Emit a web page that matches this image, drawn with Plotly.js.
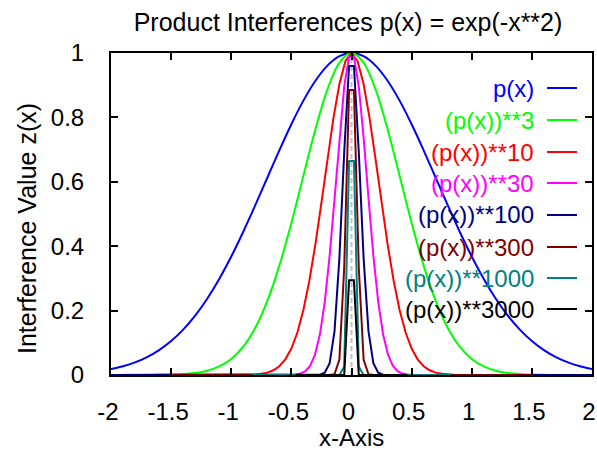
<!DOCTYPE html>
<html>
<head>
<meta charset="utf-8">
<script src="https://cdn.plot.ly/plotly-3.0.1.min.js"></script>
<style>html,body{margin:0;padding:0;background:#fff;}#chart{width:597px;height:454px;}</style>
</head>
<body>
<div id="chart"></div>
<script>
// ---- data ----
const seriesNames = ["p(x)", "(p(x))**3", "(p(x))**10", "(p(x))**30", "(p(x))**100", "(p(x))**300", "(p(x))**1000", "(p(x))**3000"];

const xP = [-2,-1.9,-1.8,-1.7,-1.6,-1.5,-1.4,-1.3,-1.2,-1.1,-1,-0.9,-0.8,-0.7,-0.6,-0.5,-0.4,-0.3,-0.2,-0.1,0,0.1,0.2,0.3,0.4,0.5,0.6,0.7,0.8,0.9,1,1.1,1.2,1.3,1.4,1.5,1.6,1.7,1.8,1.9,2];
const yP1 = [0.0183,0.0271,0.0392,0.0556,0.0773,0.1054,0.1409,0.1845,0.2369,0.2982,0.3679,0.4449,0.5273,0.6126,0.6977,0.7788,0.8521,0.9139,0.9608,0.9900,1,0.9900,0.9608,0.9139,0.8521,0.7788,0.6977,0.6126,0.5273,0.4449,0.3679,0.2982,0.2369,0.1845,0.1409,0.1054,0.0773,0.0556,0.0392,0.0271,0.0183];
const yP3 = [0,0,0.0001,0.0002,0.0005,0.0012,0.0028,0.0063,0.0133,0.0265,0.0498,0.0880,0.1466,0.2299,0.3396,0.4724,0.6188,0.7634,0.8869,0.9704,1,0.9704,0.8869,0.7634,0.6188,0.4724,0.3396,0.2299,0.1466,0.0880,0.0498,0.0265,0.0133,0.0063,0.0028,0.0012,0.0005,0.0002,0.0001,0,0];

const xP10 = [-2,-1,-0.95,-0.9,-0.85,-0.8,-0.75,-0.7,-0.65,-0.6,-0.55,-0.5,-0.45,-0.4,-0.35,-0.3,-0.25,-0.2,-0.15,-0.1,-0.05,0,0.05,0.1,0.15,0.2,0.25,0.3,0.35,0.4,0.45,0.5,0.55,0.6,0.65,0.7,0.75,0.8,0.85,0.9,0.95,1,2];
const yP10 = [0,0,0.0001,0.0003,0.0007,0.0017,0.0036,0.0074,0.0146,0.0273,0.0486,0.0821,0.1320,0.2019,0.2938,0.4066,0.5353,0.6703,0.7985,0.9048,0.9753,1,0.9753,0.9048,0.7985,0.6703,0.5353,0.4066,0.2938,0.2019,0.1320,0.0821,0.0486,0.0273,0.0146,0.0074,0.0036,0.0017,0.0007,0.0003,0.0001,0,0];

const xP30 = [-2,-0.5051,-0.4646,-0.4242,-0.3838,-0.3434,-0.3030,-0.2626,-0.2222,-0.1818,-0.1414,-0.1010,-0.0606,-0.0202,0.0202,0.0606,0.1010,0.1414,0.1818,0.2222,0.2626,0.3030,0.3434,0.3838,0.4242,0.4646,0.5051,2];
const yP30 = [0,0.0005,0.0015,0.0045,0.0120,0.0291,0.0636,0.1263,0.2273,0.3709,0.5488,0.7363,0.8957,0.9878,0.9878,0.8957,0.7363,0.5488,0.3709,0.2273,0.1263,0.0636,0.0291,0.0120,0.0045,0.0015,0.0005,0];

const xP100 = [-2,-0.3030,-0.2626,-0.2222,-0.1818,-0.1414,-0.1010,-0.0606,-0.0202,0.0202,0.0606,0.1010,0.1414,0.1818,0.2222,0.2626,0.3030,2];
const yP100 = [0,0.0001,0.0010,0.0072,0.0367,0.1354,0.3605,0.6926,0.9600,0.9600,0.6926,0.3605,0.1354,0.0367,0.0072,0.0010,0.0001,0];

const xP300 = [-1.5152,-0.1818,-0.1414,-0.1010,-0.0606,-0.0202,0.0202,0.0606,0.1010,0.1414,0.1818,1.5152];
const yP300 = [0,0,0.0025,0.0468,0.3322,0.8848,0.8848,0.3322,0.0468,0.0025,0,0];

const xP1000 = [-0.8283,-0.1010,-0.0606,-0.0202,0.0202,0.0606,0.1010,0.8283];
const yP1000 = [0,0,0.0254,0.6649,0.6649,0.0254,0,0];

const xP3000 = [-0.4646,-0.0606,-0.0202,0.0202,0.0606,0.4646];
const yP3000 = [0,0,0.2939,0.2939,0,0];

const xTickVals = [-2,-1.5,-1,-0.5,0,0.5,1,1.5,2];
const xTickText = ["-2","-1.5","-1","-0.5","0","0.5","1","1.5","2"];
const yTickVals = [0,0.2,0.4,0.6,0.8,1];
const yTickText = ["0","0.2","0.4","0.6","0.8","1"];

// ---- styling ----
const colors = ["#0000ff","#00ff00","#ff0000","#ff00ff","#000080","#800000","#008080","#000000"];
const xs = [xP, xP, xP10, xP30, xP100, xP300, xP1000, xP3000];
const ys = [yP1, yP3, yP10, yP30, yP100, yP300, yP1000, yP3000];
const shapesLine = ["spline","spline","linear","linear","linear","linear","linear","linear"];

const FONT = '"Liberation Sans", Arial, sans-serif';
const W = 597, H = 454;
const M = {l:111, r:5, t:53, b:79};
const PW = W - M.l - M.r, PH = H - M.t - M.b;
const px = v => (v - M.l) / PW;
const py = v => (H - M.b - v) / PH;

const traces = seriesNames.map((n, i) => ({
  type: 'scatter', mode: 'lines', name: n,
  x: xs[i], y: ys[i],
  line: {color: colors[i], width: 2, shape: shapesLine[i]},
  hoverinfo: 'skip'
}));

const legendRows = [88, 120, 152, 183, 215, 247, 278, 309];
const annotations = seriesNames.map((n, i) => ({
  xref: 'paper', yref: 'paper', x: px(536), y: py(legendRows[i]),
  xanchor: 'right', yanchor: 'middle', showarrow: false,
  text: n, font: {family: FONT, size: 24, color: colors[i]}
}));
annotations.push({
  xref: 'paper', yref: 'paper', x: px(351), y: py(437),
  xanchor: 'center', yanchor: 'middle', showarrow: false,
  text: 'x-Axis', font: {family: FONT, size: 24, color: '#000'}
});
annotations.push({
  xref: 'paper', yref: 'paper', x: px(27), y: py(229),
  xanchor: 'center', yanchor: 'middle', showarrow: false, textangle: -90,
  text: 'Interference Value z(x)', font: {family: FONT, size: 25, color: '#000'}
});

const shapes = [{
  type: 'line', xref: 'x', yref: 'paper', x0: 0, x1: 0, y0: 0, y1: 1,
  line: {color: '#c0c0c0', width: 2, dash: '5px,3px'}, layer: 'below'
}];
seriesNames.forEach((n, i) => shapes.push({
  type: 'line', xref: 'paper', yref: 'paper',
  x0: px(547), x1: px(577), y0: py(legendRows[i]), y1: py(legendRows[i]),
  line: {color: colors[i], width: 2}
}));

const axisCommon = {
  showline: true, linecolor: '#000', linewidth: 2, mirror: 'ticks',
  ticks: 'inside', ticklen: 7, tickwidth: 2, tickcolor: '#000',
  showgrid: false, zeroline: false, ticklabeloverflow: 'allow',
  tickfont: {family: FONT, size: 24, color: '#000'}
};

const layout = {
  width: W, height: H, margin: M,
  paper_bgcolor: '#fff', plot_bgcolor: '#fff',
  showlegend: false,
  title: {text: 'Product Interferences p(x) = exp(-x**2)', x: px(348), xref: 'paper', xanchor: 'center', y: 1 - 22 / H, yanchor: 'middle', font: {family: FONT, size: 25, color: '#000'}},
  xaxis: Object.assign({}, axisCommon, {range: [-2, 2], tickmode: 'array', tickvals: xTickVals, ticktext: xTickText, ticklabelstandoff: 14, ticklabelshift: -3}),
  yaxis: Object.assign({}, axisCommon, {range: [0, 1], tickmode: 'array', tickvals: yTickVals, ticktext: yTickText, ticklabelstandoff: 20}),
  annotations: annotations,
  shapes: shapes
};

Plotly.newPlot('chart', traces, layout, {staticPlot: true, displayModeBar: false});
</script>
</body>
</html>
